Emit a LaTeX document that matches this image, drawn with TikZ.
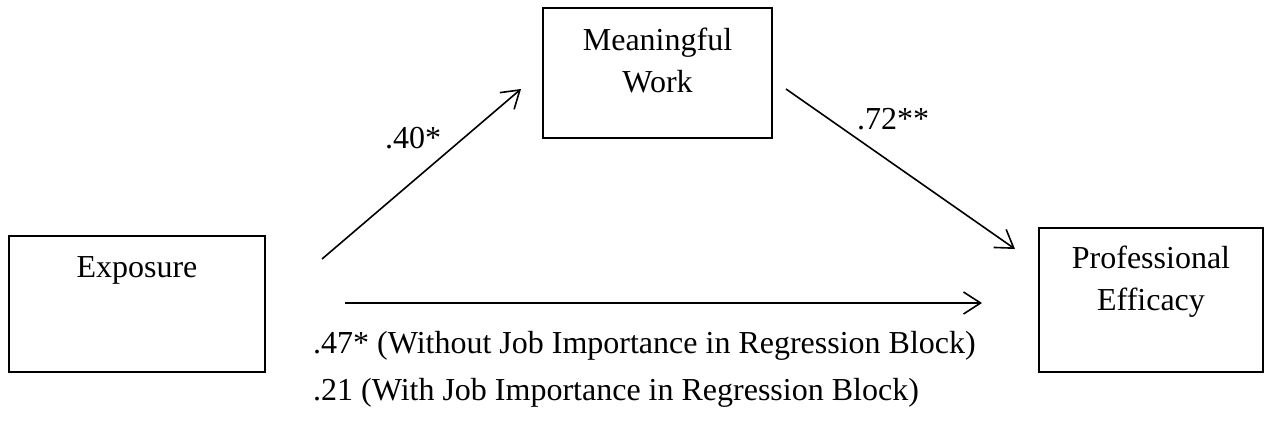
\documentclass[tikz,border=0pt]{standalone}
\usepackage{fontspec}
\setmainfont{Liberation Serif}
\usetikzlibrary{arrows.meta}
\begin{document}
\begin{tikzpicture}[x=1pt,y=-1pt,
  box/.style={draw=black,line width=2pt,inner sep=0pt},
  txt/.style={inner sep=0pt,anchor=base,font=\fontsize{32}{42}\selectfont},
  ltxt/.style={inner sep=0pt,anchor=base west,font=\fontsize{32}{42}\selectfont},
  conn/.style={line width=1.6pt,-{Straight Barb[length=17pt,width=22pt,line width=1.6pt]}}]
\useasboundingbox (0,0) rectangle (1266,423);
% boxes
\node[box,minimum width=256pt,minimum height=136pt] (ex) at (137,304) {};
\node[box,minimum width=229pt,minimum height=130pt] (mw) at (657.5,73) {};
\node[box,minimum width=224pt,minimum height=144pt] (pe) at (1151,300) {};
% box texts
\node[txt] (ext) at (137,277) {Exposure};
\node[txt] (mwt1) at (657.5,50) {Meaningful};
\node[txt] (mwt2) at (657.5,92) {Work};
\node[txt] (pet1) at (1151,268) {Professional};
\node[txt] (pet2) at (1151,310) {Efficacy};
% connector ends
\coordinate (a1s) at (322,259);
\coordinate (a1e) at (521,89);
\coordinate (a2s) at (786,89);
\coordinate (a2e) at (1015,249);
\coordinate (a3s) at (345,303);
\coordinate (a3e) at (982,303);
\draw[conn] (a1s) -- (a1e);
\draw[conn] (a2s) -- (a2e);
\draw[conn] (a3s) -- (a3e);
% labels
\node[ltxt] (l1) at (385,148) {.40*};
\node[ltxt] (l2) at (857,129) {.72**};
\node[ltxt] (l3) at (313,353) {.47* (Without Job Importance in Regression Block)};
\node[ltxt] (l4) at (313,400) {.21 (With Job Importance in Regression Block)};
\end{tikzpicture}
\end{document}
